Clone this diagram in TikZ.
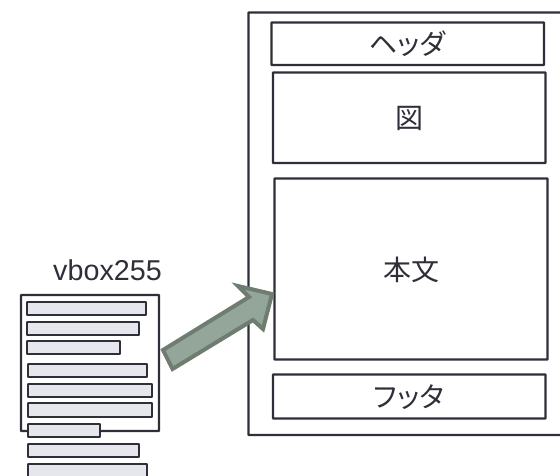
\documentclass[tikz,border=0pt]{standalone}
\usepackage{fontspec}
\setmainfont{Liberation Sans}
\newfontfamily\cjkfont[RawFeature=+palt]{Noto Sans CJK JP}
\definecolor{ink}{HTML}{2F2F3A}
\definecolor{barfill}{HTML}{E6E7EC}
\definecolor{arrowfill}{HTML}{94A59A}
\definecolor{arrowline}{HTML}{6F7D70}
\tikzset{
  x=1pt,y=-1pt,
  boxshape/.style={draw=ink,line width=2.3pt,fill=white,rounded corners=0.5pt},
  barshape/.style={draw=ink,line width=1.8pt,fill=barfill,rounded corners=0.5pt},
  blockarrow/.style={draw=arrowline,line width=4pt,fill=arrowfill,line join=miter},
  jplabel/.style={font=\cjkfont\fontsize{28}{32}\selectfont,text=ink,inner sep=0pt},
  latinlabel/.style={font=\fontsize{28.7}{32}\selectfont,text=ink,inner sep=0pt}
}
\begin{document}
\begin{tikzpicture}
\useasboundingbox (0,0) rectangle (560,475);
\clip (0,0) rectangle (560,475);
% page
\draw[boxshape] (248.5,12.5) -- (565,12.5) -- (565,435) -- (248.5,435) -- cycle;
\draw[boxshape] (271.5,22.5) rectangle (544,65);
\draw[boxshape] (273,72.5) rectangle (545.5,163);
\draw[boxshape] (274.5,178.5) rectangle (547.5,359.5);
\draw[boxshape] (273,374.5) rectangle (545.5,418.5);
\node[jplabel] (hdr) at (407.5,44) {ヘッダ};
\node[jplabel] (fig) at (409,118.5) {図};
\node[jplabel] (body) at (411,270) {本文};
\node[jplabel] (ftr) at (409,397) {フッタ};
% vbox
\draw[boxshape] (21,295) rectangle (159,431);
\foreach \xa/\xb/\ya/\yb in {27/146/302/315,27/139/322/335,27/120/341/354,28/147/364/377,28/152/384/397,28/152/403/417,28/100/424/437,28/139/444/457,28/147/464/485}{
  \draw[barshape] (\xa,\ya) rectangle (\xb,\yb);
}
\node[latinlabel] (vb) at (107.5,270) {vbox255};
% block arrow
\coordinate (t1) at (163,350);
\coordinate (t2) at (172.5,369);
\coordinate (n1) at (253,320);
\coordinate (b1) at (263,329);
\coordinate (tip) at (272,294);
\coordinate (b2) at (238,286);
\coordinate (n2) at (249,297);
\draw[blockarrow] (t1) -- (t2) -- (n1) -- (b1) -- (tip) -- (b2) -- (n2) -- cycle;
\end{tikzpicture}
\end{document}
